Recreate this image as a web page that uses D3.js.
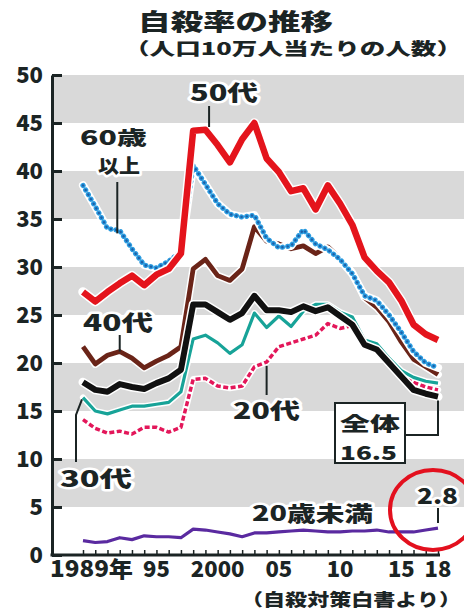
<!DOCTYPE html>
<html>
<head>
<meta charset="utf-8">
<script src="https://cdn.jsdelivr.net/npm/d3@7/dist/d3.min.js"></script>
<style>
  html, body { margin: 0; padding: 0; background: #fff; }
  svg { display: block; }
  text { font-family: "Noto Sans CJK JP", "Noto Sans", sans-serif; font-weight: 900; fill: #1b2424; }
</style>
</head>
<body>
<svg id="chart" width="464" height="610"></svg>
<script>
// 年（1989〜2018）
const years = [1989, 1990, 1991, 1992, 1993, 1994, 1995, 1996, 1997, 1998,
               1999, 2000, 2001, 2002, 2003, 2004, 2005, 2006, 2007, 2008,
               2009, 2010, 2011, 2012, 2013, 2014, 2015, 2016, 2017, 2018];

// 年代別の自殺率（人口10万人当たり）
const age50s   = [27.4, 26.4, 27.4, 28.3, 29.1, 28.1, 29.2, 29.8, 31.4, 44.2,
                  44.3, 42.7, 40.9, 43.3, 45.0, 41.3, 39.9, 37.9, 38.2, 36.0,
                  38.5, 36.6, 34.4, 31.0, 29.6, 28.4, 26.5, 24.0, 23.0, 22.4];
const age60up  = [38.5, 36.3, 34.0, 33.8, 31.9, 30.2, 29.9, 30.6, 31.6, 40.6,
                  38.6, 36.6, 35.5, 35.2, 35.4, 33.0, 32.0, 32.2, 33.9, 32.4,
                  31.8, 30.8, 29.3, 27.0, 26.5, 25.0, 23.2, 21.2, 20.0, 19.5];
const age40s   = [21.7, 19.9, 20.8, 21.2, 20.5, 19.5, 20.2, 20.8, 21.7, 29.8,
                  30.8, 29.1, 28.6, 29.8, 34.2, 32.7, 32.4, 31.9, 32.2, 31.4,
                  32.1, 30.9, 29.4, 26.8, 25.8, 24.3, 22.2, 20.4, 19.6, 18.8];
const overall  = [18.0, 17.2, 17.0, 17.8, 17.5, 17.3, 17.9, 18.4, 19.3, 26.1,
                  26.1, 25.3, 24.5, 25.2, 27.0, 25.5, 25.5, 25.3, 25.9, 25.4,
                  25.8, 24.9, 24.0, 21.9, 21.4, 20.0, 18.6, 17.2, 16.8, 16.5];
const age30s   = [16.4, 15.0, 14.7, 15.1, 15.5, 15.5, 15.7, 15.9, 17.0, 22.5,
                  22.9, 22.1, 21.0, 21.9, 25.2, 23.7, 24.9, 23.8, 25.4, 26.1,
                  26.1, 25.3, 24.8, 22.4, 22.0, 20.5, 19.2, 18.5, 18.1, 17.9];
const age20s   = [14.1, 13.2, 12.7, 12.9, 12.6, 13.3, 13.3, 12.8, 13.3, 18.3,
                  18.4, 17.6, 17.4, 17.6, 19.6, 20.1, 21.7, 22.1, 22.5, 22.9,
                  24.1, 23.6, 23.9, 22.3, 21.6, 20.4, 18.9, 18.0, 17.5, 17.2];
const under20  = [1.5, 1.3, 1.4, 1.8, 1.6, 2.0, 1.9, 1.9, 1.8, 2.7,
                  2.6, 2.4, 2.2, 1.9, 2.3, 2.3, 2.4, 2.5, 2.6, 2.5,
                  2.4, 2.4, 2.5, 2.5, 2.6, 2.4, 2.4, 2.4, 2.6, 2.8];

// 目盛り
const yTicks = [0, 5, 10, 15, 20, 25, 30, 35, 40, 45, 50];
const xLabelYears = [1989, 1995, 2000, 2005, 2010, 2015, 2018];
const xLabelText  = ["1989年", "95", "2000", "05", "10", "15", "18"];

const svg = d3.select("#chart");
const x = d3.scaleLinear().domain([1989, 2018]).range([83, 438]);
const y = d3.scaleLinear().domain([0, 50]).range([555, 75]);
const axisX = 52;
const ink = "#1b2424";

// 灰色の帯（5刻みで交互）
const bands = yTicks.slice(0, -1).filter((t, i) => i % 2 === 1);
svg.append("g").selectAll("rect").data(bands).join("rect")
  .attr("x", axisX).attr("width", 464 - axisX)
  .attr("y", d => y(d + 5)).attr("height", d => y(d) - y(d + 5))
  .attr("fill", "#d9d9d9");

// タイトル
svg.append("text").attr("x", 138).attr("y", 30)
  .attr("font-size", 23).attr("textLength", 195).attr("lengthAdjust", "spacingAndGlyphs")
  .text("自殺率の推移");
svg.append("text").attr("x", 124).attr("y", 55)
  .attr("font-size", 17).attr("textLength", 338).attr("lengthAdjust", "spacingAndGlyphs")
  .text("（人口10万人当たりの人数）");

// 縦軸
const yAxis = d3.axisLeft(y).tickValues(yTicks).tickSizeInner(-10).tickSizeOuter(0).tickPadding(9);
const gy = svg.append("g").attr("transform", `translate(${axisX},0)`).call(yAxis);
gy.select(".domain").attr("stroke", ink).attr("stroke-width", 3);
gy.selectAll(".tick line").attr("stroke", ink).attr("stroke-width", 3);
gy.selectAll(".tick text").attr("font-size", 22).attr("fill", ink)
  .attr("font-family", '"Noto Sans CJK JP", sans-serif').attr("font-weight", 900)
  .attr("dy", "0.36em");

// 横軸
const xAxis = d3.axisBottom(x).tickValues(years).tickSizeInner(-5).tickSizeOuter(0).tickFormat("");
const gx = svg.append("g").attr("transform", `translate(0,${y(0)})`).call(xAxis);
gx.select(".domain").attr("d", `M${axisX - 1.5},0H${x(2018) + 2}`).attr("stroke", ink).attr("stroke-width", 3);
gx.selectAll(".tick line").attr("stroke", ink).attr("stroke-width", 1.5);

svg.append("g").selectAll("text").data(xLabelYears).join("text")
  .attr("x", (d, i) => i === 0 ? 50 : x(d))
  .attr("y", 577)
  .attr("text-anchor", (d, i) => i === 0 ? "start" : "middle")
  .attr("font-size", 22)
  .attr("textLength", (d, i) => i === 0 ? 83 : null)
  .attr("lengthAdjust", "spacingAndGlyphs")
  .text((d, i) => xLabelText[i]);

svg.append("text").attr("x", 241).attr("y", 606)
  .attr("font-size", 17).attr("textLength", 220).attr("lengthAdjust", "spacingAndGlyphs")
  .text("（自殺対策白書より）");

// 折れ線
const line = d3.line().x((d, i) => x(years[i])).y(d => y(d));
const plot = svg.append("g").attr("fill", "none").attr("stroke-linejoin", "round");

function drawSeries(values, style) {
  plot.append("path").attr("d", line(values))
    .attr("stroke", "#fff").attr("stroke-width", style.w + 3)
    .attr("stroke-linecap", "round");
  const p = plot.append("path").attr("d", line(values))
    .attr("stroke", style.color).attr("stroke-width", style.w)
    .attr("stroke-linecap", style.cap || "butt");
  if (style.dash) p.attr("stroke-dasharray", style.dash);
  if (style.inner) {
    plot.append("path").attr("d", line(values))
      .attr("stroke", style.inner).attr("stroke-width", style.innerW)
      .attr("stroke-linecap", "round").attr("stroke-dasharray", style.dash);
  }
}

drawSeries(under20, { color: "#5a2aa0", w: 3.2 });
drawSeries(age20s,  { color: "#e3175a", w: 3.5, dash: "5,2.5" });
drawSeries(age30s,  { color: "#17a398", w: 3.2 });
drawSeries(age40s,  { color: "#6a2418", w: 4.8 });
drawSeries(age60up, { color: "#2a9be0", w: 5.2, dash: "0.1,5.2", cap: "round", inner: "#1d5fa6", innerW: 2.4 });
drawSeries(overall, { color: "#111", w: 6 });
drawSeries(age50s,  { color: "#e4141c", w: 6.5 });

// 引き出し線
const leaders = svg.append("g").attr("fill", "none").attr("stroke", ink).attr("stroke-width", 2);
leaders.append("path").attr("d", `M${x(1999.3)},106V127`);
leaders.append("path").attr("d", `M${x(1991.8)},182V${y(33.5)}`);
leaders.append("path").attr("d", `M${x(1992)},335V${y(21.2)}`);
leaders.append("path").attr("d", `M${x(2004)},395V${y(19.7)}`);
leaders.append("path").attr("d", `M${x(1989) - 1},${y(16.2)}L76,${y(14.6)}V462`);
leaders.append("path").attr("d", `M405,435H${x(2018)}V${y(16.5) + 4}`);
leaders.append("path").attr("d", `M${x(2018)},508V${y(2.8) - 5}`);

// 系列ラベル（白縁付き）
function label(txt, lx, ly, size, len) {
  svg.append("text").attr("x", lx).attr("y", ly)
    .attr("font-size", size).attr("textLength", len).attr("lengthAdjust", "spacingAndGlyphs")
    .attr("stroke", "#fff").attr("stroke-width", 5).attr("stroke-linejoin", "round")
    .attr("paint-order", "stroke").text(txt);
}
label("50代", 190, 101, 22, 68);
label("60歳", 80, 145, 19.5, 67);
label("以上", 98, 173, 19, 42);
label("40代", 83, 331, 22, 70);
label("20代", 233, 419, 22, 67);
label("30代", 60, 487, 22, 72);
label("20歳未満", 252, 521, 21, 121);
label("2.8", 417, 504, 22, 41);

// 全体ボックス
svg.append("rect").attr("x", 335).attr("y", 403).attr("width", 70).attr("height", 60)
  .attr("fill", "#fff").attr("stroke", ink).attr("stroke-width", 2);
svg.append("text").attr("x", 340).attr("y", 431).attr("font-size", 19.5)
  .attr("textLength", 60).attr("lengthAdjust", "spacingAndGlyphs").text("全体");
svg.append("text").attr("x", 340).attr("y", 460).attr("font-size", 19.5)
  .attr("textLength", 57).attr("lengthAdjust", "spacingAndGlyphs").text(overall[overall.length - 1].toFixed(1));

// 2018年の20歳未満を囲む赤丸
svg.append("ellipse").attr("cx", x(2018) - 5).attr("cy", y(4.7)).attr("rx", 43).attr("ry", 40)
  .attr("fill", "none").attr("stroke", "#e3101e").attr("stroke-width", 4);
</script>
</body>
</html>
